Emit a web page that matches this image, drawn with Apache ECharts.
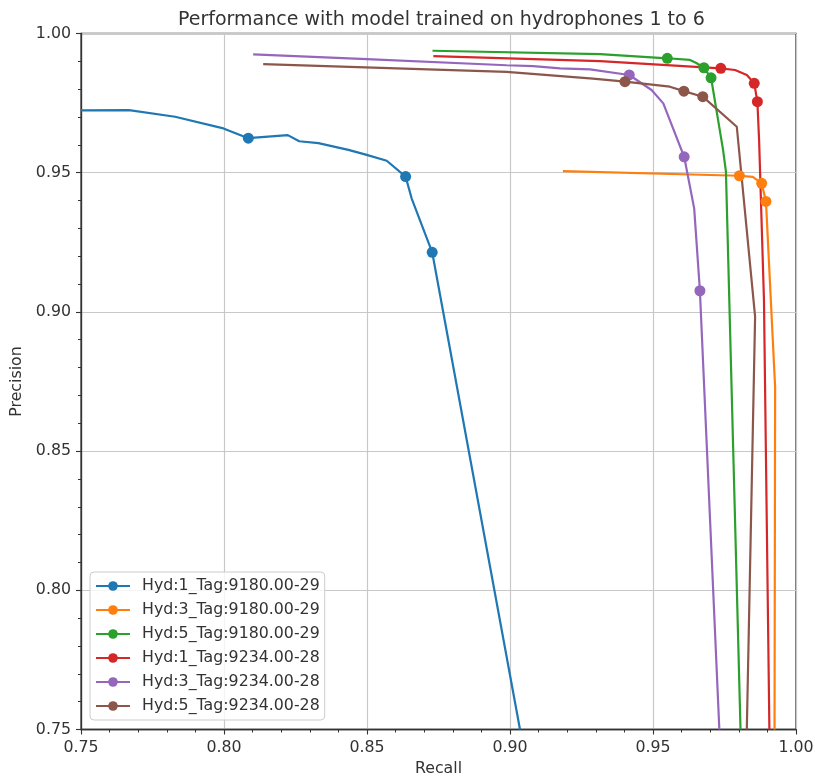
<!DOCTYPE html>
<html>
<head>
<meta charset="utf-8">
<script src="https://cdn.jsdelivr.net/npm/echarts@6/dist/echarts.min.js"></script>
<style>html,body{margin:0;padding:0;background:#fff}#c{width:815px;height:778px}</style>
</head>
<body>
<div id="c"></div>
<script>
// ---- data ----
const seriesNames = ['Hyd:1_Tag:9180.00-29','Hyd:3_Tag:9180.00-29','Hyd:5_Tag:9180.00-29','Hyd:1_Tag:9234.00-28','Hyd:3_Tag:9234.00-28','Hyd:5_Tag:9234.00-28'];
const colors = ['#1f77b4','#ff7f0e','#2ca02c','#d62728','#9467bd','#8c564b'];

const h1_9180_recall    = [0.7500,0.7668,0.7829,0.7998,0.8085,0.8223,0.8263,0.8330,0.8435,0.8499,0.8569,0.8635,0.8656,0.8728,0.9035];
const h1_9180_precision = [0.9724,0.9725,0.9701,0.9659,0.9624,0.9635,0.9613,0.9606,0.9582,0.9564,0.9543,0.9486,0.9408,0.9214,0.7500];
const h1_9180_markers   = [4,11,13];

const h3_9180_recall    = [0.9185,0.9802,0.9849,0.9880,0.9895,0.9927,0.9925];
const h3_9180_precision = [0.9506,0.9489,0.9485,0.9462,0.9397,0.8730,0.7500];
const h3_9180_markers   = [1,3,4];

const h5_9180_recall    = [0.8729,0.9315,0.9550,0.9629,0.9650,0.9678,0.9703,0.9745,0.9755,0.9806];
const h5_9180_precision = [0.9938,0.9926,0.9911,0.9905,0.9895,0.9877,0.9841,0.9582,0.9504,0.7500];
const h5_9180_markers   = [2,5,6];

const h1_9234_recall    = [0.8732,0.9315,0.9737,0.9787,0.9828,0.9854,0.9865,0.9871,0.9888,0.9907];
const h1_9234_precision = [0.9919,0.9901,0.9875,0.9869,0.9851,0.9821,0.9755,0.9617,0.9043,0.7500];
const h1_9234_markers   = [2,5,6];

const h3_9234_recall    = [0.8102,0.8499,0.8988,0.9081,0.9175,0.9280,0.9417,0.9495,0.9536,0.9609,0.9644,0.9664,0.9732];
const h3_9234_precision = [0.9925,0.9908,0.9886,0.9883,0.9875,0.9871,0.9851,0.9797,0.9749,0.9557,0.9372,0.9076,0.7500];
const h3_9234_markers   = [6,9,11];

const h5_9234_recall    = [0.8137,0.8988,0.9290,0.9402,0.9559,0.9608,0.9674,0.9793,0.9857,0.9828];
const h5_9234_precision = [0.9890,0.9862,0.9838,0.9827,0.9809,0.9793,0.9773,0.9665,0.8983,0.7500];
const h5_9234_markers   = [3,5,6];

const xTicks = [0.75,0.80,0.85,0.90,0.95,1.00];
const yTicks = [0.75,0.80,0.85,0.90,0.95,1.00];

const allRecall = [h1_9180_recall,h3_9180_recall,h5_9180_recall,h1_9234_recall,h3_9234_recall,h5_9234_recall];
const allPrecision = [h1_9180_precision,h3_9180_precision,h5_9180_precision,h1_9234_precision,h3_9234_precision,h5_9234_precision];
const allMarkers = [h1_9180_markers,h3_9180_markers,h5_9180_markers,h1_9234_markers,h3_9234_markers,h5_9234_markers];

// ---- chart ----
const FONT = 'DejaVu Sans';
const TXT = '#333333';
const series = seriesNames.map((name, i) => ({
  name: name,
  type: 'line',
  color: colors[i],
  symbol: 'circle',
  symbolSize: 11,
  showSymbol: true,
  showAllSymbol: true,
  clip: true,
  lineStyle: {width: 2.2, color: colors[i]},
  itemStyle: {color: colors[i]},
  emphasis: {disabled: true},
  data: allRecall[i].map((x, j) => ({
    value: [x, allPrecision[i][j]],
    symbol: allMarkers[i].includes(j) ? 'circle' : 'none'
  }))
}));

const chart = echarts.init(document.getElementById('c'), null, {renderer: 'canvas'});
chart.setOption({
  animation: false,
  backgroundColor: '#ffffff',
  textStyle: {fontFamily: FONT},
  title: {
    text: 'Performance with model trained on hydrophones 1 to 6',
    left: 173, top: 6,
    textStyle: {fontFamily: FONT, fontSize: 19, fontWeight: 'normal', color: TXT}
  },
  grid: {left: 81, top: 33.5, right: 19, bottom: 48.5, outerBoundsMode: 'none', containLabel: false,
         show: true, borderColor: '#333', borderWidth: 1.3, backgroundColor: 'transparent'},
  xAxis: {
    type: 'value', min: xTicks[0], max: xTicks[xTicks.length-1], interval: 0.05,
    name: 'Recall', nameLocation: 'middle', nameGap: 31,
    nameTextStyle: {fontFamily: FONT, fontSize: 15.8, color: TXT},
    axisLine: {show: true, onZero: false, lineStyle: {color: '#333', width: 1.3}},
    axisTick: {show: true, length: 5, lineStyle: {color: '#333', width: 1.1}},
    minorTick: {show: true, splitNumber: 5, length: 3, lineStyle: {color: '#333', width: 1}},
    splitLine: {show: true, lineStyle: {color: '#c8c8c8', width: 1.2}},
    axisLabel: {fontFamily: FONT, fontSize: 15.8, color: TXT, margin: 10, formatter: v => v.toFixed(2)}
  },
  yAxis: {
    type: 'value', min: yTicks[0], max: yTicks[yTicks.length-1], interval: 0.05,
    name: 'Precision', nameLocation: 'middle', nameGap: 53,
    nameTextStyle: {fontFamily: FONT, fontSize: 15.8, color: TXT},
    axisLine: {show: true, onZero: false, lineStyle: {color: '#333', width: 1.3}},
    axisTick: {show: true, length: 5, lineStyle: {color: '#333', width: 1.1}},
    minorTick: {show: true, splitNumber: 5, length: 3, lineStyle: {color: '#333', width: 1}},
    splitLine: {show: true, lineStyle: {color: '#c8c8c8', width: 1.2}},
    axisLabel: {fontFamily: FONT, fontSize: 15.8, color: TXT, margin: 10, formatter: v => v.toFixed(2)}
  },
  legend: {
    orient: 'vertical', left: 90, top: 572,
    padding: [5, 5, 5, 5],
    itemWidth: 34, itemHeight: 12, itemGap: 6,
    backgroundColor: 'rgba(255,255,255,0.8)', borderColor: '#cccccc', borderWidth: 1, borderRadius: 4,
    textStyle: {fontFamily: FONT, fontSize: 15.8, color: TXT, lineHeight: 18, padding: [0,0,0,7]},
    data: seriesNames
  },
  series: series
});
</script>
</body>
</html>
